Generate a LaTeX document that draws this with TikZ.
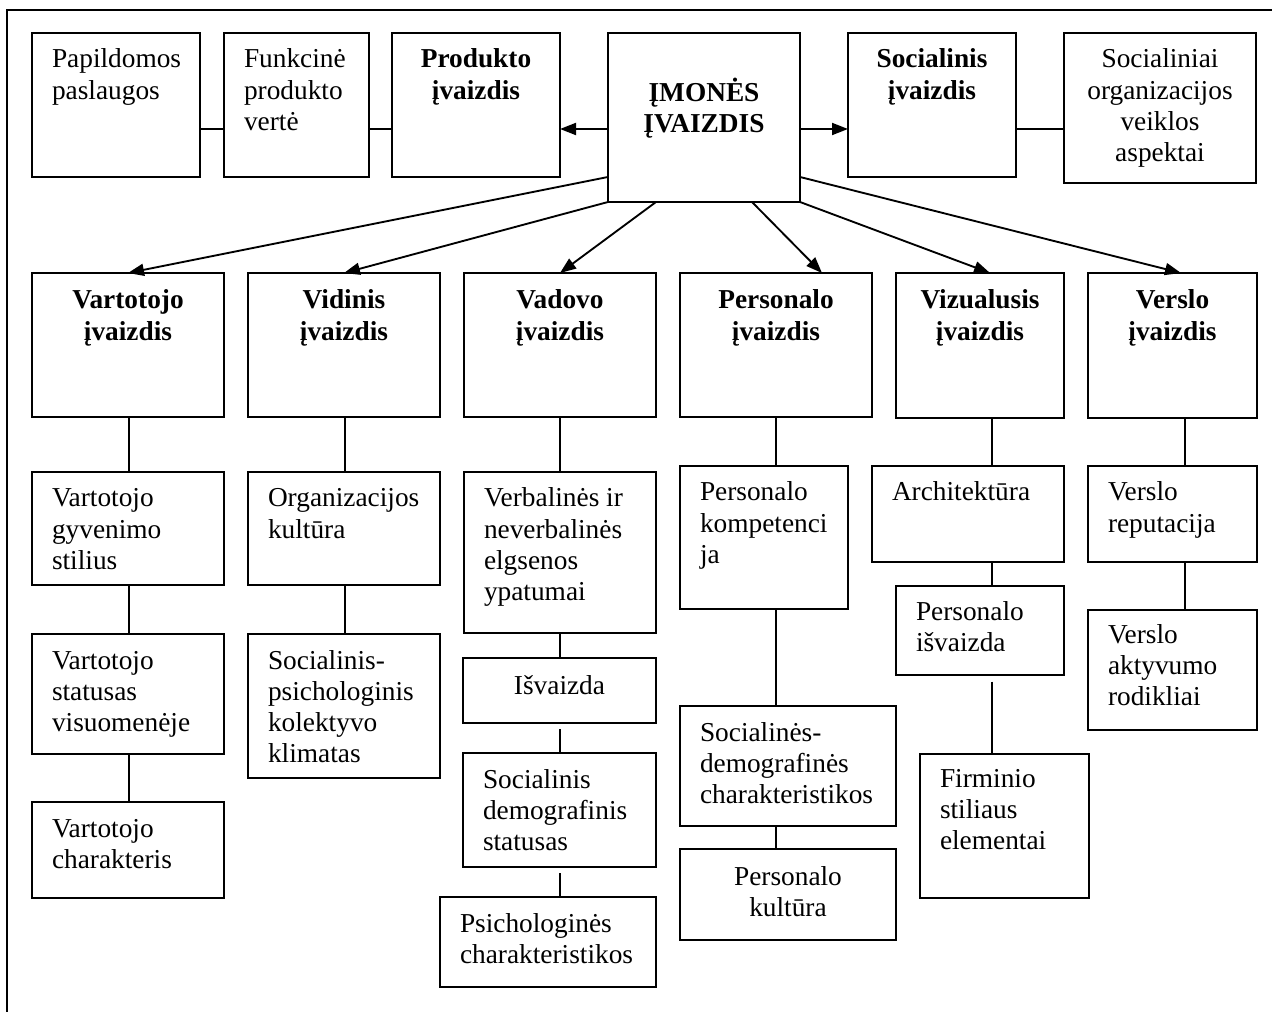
\documentclass[tikz,border=0pt]{standalone}
\usepackage{fontspec}
\usepackage{array}
\setmainfont{Liberation Serif}
\usetikzlibrary{arrows.meta}

% \bx[baseline offset px]{name}{x1}{y1}{x2}{y2}{l|c|b}{lines}
% draws a framed box whose top-left corner is (x1,y1) and bottom-right (x2,y2);
% l = left aligned, c = centred, b = bold centred
\newcommand\bx[8][35]{%
  \node[box] (#2) at (#3,#4) {\parbox[t][\dimexpr0.75pt*\numexpr#6-#4\relax\relax][t]{\dimexpr0.75pt*\numexpr#5-#3\relax\relax}{%
    \vspace*{\dimexpr0.75pt*#1-0.7\baselineskip\relax}%
    \ifx c#7\centering\begin{tabular}[t]{@{}c@{}}#8\end{tabular}%
    \else\ifx b#7\centering\begin{tabular}[t]{@{}>{\bfseries}c@{}}#8\end{tabular}%
    \else\hspace*{15pt}\begin{tabular}[t]{@{}l@{}}#8\end{tabular}\fi\fi}};%
}

\begin{document}
\begin{tikzpicture}[x=0.75pt,y=-0.75pt,
  box/.style={draw, line width=1pt, inner sep=0pt, outer sep=0pt, anchor=north west,
    font=\fontsize{20.5pt}{23.4pt}\selectfont},
  ln/.style={line width=1pt},
  arr/.style={line width=1.4pt, -{Triangle[length=12pt,width=9pt]}},
  frame/.style={line width=1.1pt}]
\useasboundingbox (0,0) rectangle (1272,1012);

% outer frame (top and left edges)
\draw[frame] (7,1012) -- (7,10) -- (1272,10);

% top row
\bx{pap}{32}{33}{200}{177}{l}{Papildomos\\paslaugos}
\bx{fun}{224}{33}{369}{177}{l}{Funkcinė\\produkto\\vertė}
\bx{prod}{392}{33}{560}{177}{b}{Produkto\\įvaizdis}
\bx[67]{im}{608}{33}{800}{202}{b}{ĮMONĖS\\ĮVAIZDIS}
\bx{soc}{848}{33}{1016}{177}{b}{Socialinis\\įvaizdis}
\bx{socl}{1064}{33}{1256}{183}{c}{Socialiniai\\organizacijos\\veiklos\\aspektai}

% second row: kinds of image
\bx[36]{vt}{32}{273}{224}{417}{b}{Vartotojo\\įvaizdis}
\bx[36]{vi}{248}{273}{440}{417}{b}{Vidinis\\įvaizdis}
\bx[36]{vd}{464}{273}{656}{417}{b}{Vadovo\\įvaizdis}
\bx[36]{pe}{680}{273}{872}{417}{b}{Personalo\\įvaizdis}
\bx[36]{vz}{896}{273}{1064}{418}{b}{Vizualusis\\įvaizdis}
\bx[36]{vs}{1088}{273}{1257}{418}{b}{Verslo\\įvaizdis}

% Vartotojo column
\bx{vt2}{32}{472}{224}{585}{l}{Vartotojo\\gyvenimo\\stilius}
\bx{vt3}{32}{634}{224}{754}{l}{Vartotojo\\statusas\\visuomenėje}
\bx{vt4}{32}{802}{224}{898}{l}{Vartotojo\\charakteris}

% Vidinis column
\bx{vi2}{248}{472}{440}{585}{l}{Organizacijos\\kultūra}
\bx{vi3}{248}{634}{440}{778}{l}{Socialinis-\\psichologinis\\kolektyvo\\klimatas}

% Vadovo column
\bx{vd2}{464}{472}{656}{633}{l}{Verbalinės ir\\neverbalinės\\elgsenos\\ypatumai}
\bx[36]{vd3}{463}{658}{656}{723}{c}{Išvaizda}
\bx{vd4}{463}{753}{656}{867}{l}{Socialinis\\demografinis\\statusas}
\bx{vd5}{440}{897}{656}{987}{l}{Psichologinės\\charakteristikos}

% Personalo column
\bx{pe2}{680}{466}{848}{609}{l}{Personalo\\kompetenci\\ja}
\bx{pe3}{680}{706}{896}{826}{l}{Socialinės-\\demografinės\\charakteristikos}
\bx[36]{pe4}{680}{849}{896}{940}{c}{Personalo\\kultūra}

% Vizualusis column
\bx{vz2}{872}{466}{1064}{562}{l}{Architektūra}
\bx[34]{vz3}{896}{586}{1064}{675}{l}{Personalo\\išvaizda}
\bx[33]{vz4}{920}{754}{1089}{898}{l}{Firminio\\stiliaus\\elementai}

% Verslo column
\bx{vs2}{1088}{466}{1257}{562}{l}{Verslo\\reputacija}
\bx[33]{vs3}{1088}{610}{1257}{730}{l}{Verslo\\aktyvumo\\rodikliai}

% reference lines for the connectors
\coordinate (ay) at (0,129);
\coordinate (k1) at (129,0);
\coordinate (k2) at (345,0);
\coordinate (k3) at (560,0);
\coordinate (k4) at (776,0);
\coordinate (k5) at (992,0);
\coordinate (k6) at (1185,0);

% top row links
\draw[ln] (pap.east |- ay) -- (fun.west |- ay);
\draw[ln] (fun.east |- ay) -- (prod.west |- ay);
\draw[arr] (im.west |- ay) -- (prod.east |- ay);
\draw[arr] (im.east |- ay) -- (soc.west |- ay);
\draw[ln] (soc.east |- ay) -- (socl.west |- ay);

% arrows to the kinds of image
\draw[arr] ([yshift=18.75pt]im.south west) -- (vt.north);
\draw[arr] (im.south west) -- (vi.north);
\draw[arr] ([xshift=36pt]im.south west) -- (vd.north);
\draw[arr] ([xshift=-36pt]im.south east) -- ([xshift=34.5pt]pe.north);
\draw[arr] (im.south east) -- ([xshift=7.5pt]vz.north);
\draw[arr] ([yshift=18.75pt]im.south east) -- ([xshift=6.4pt]vs.north);

% column links
\draw[ln] (vt.south -| k1) -- (vt2.north -| k1);
\draw[ln] (vt2.south -| k1) -- (vt3.north -| k1);
\draw[ln] (vt3.south -| k1) -- (vt4.north -| k1);

\draw[ln] (vi.south -| k2) -- (vi2.north -| k2);
\draw[ln] (vi2.south -| k2) -- (vi3.north -| k2);

\draw[ln] (vd.south -| k3) -- (vd2.north -| k3);
\draw[ln] (vd2.south -| k3) -- (vd3.north -| k3);
\draw[ln, shorten <=4.5pt] (vd3.south -| k3) -- (vd4.north -| k3);
\draw[ln, shorten <=4.5pt] (vd4.south -| k3) -- (vd5.north -| k3);

\draw[ln] (pe.south -| k4) -- (pe2.north -| k4);
\draw[ln] (pe2.south -| k4) -- (pe3.north -| k4);
\draw[ln] (pe3.south -| k4) -- (pe4.north -| k4);

\draw[ln] (vz.south -| k5) -- (vz2.north -| k5);
\draw[ln] (vz2.south -| k5) -- (vz3.north -| k5);
\draw[ln, shorten <=5pt] (vz3.south -| k5) -- (vz4.north -| k5);

\draw[ln] (vs.south -| k6) -- (vs2.north -| k6);
\draw[ln] (vs2.south -| k6) -- (vs3.north -| k6);
\end{tikzpicture}
\end{document}
